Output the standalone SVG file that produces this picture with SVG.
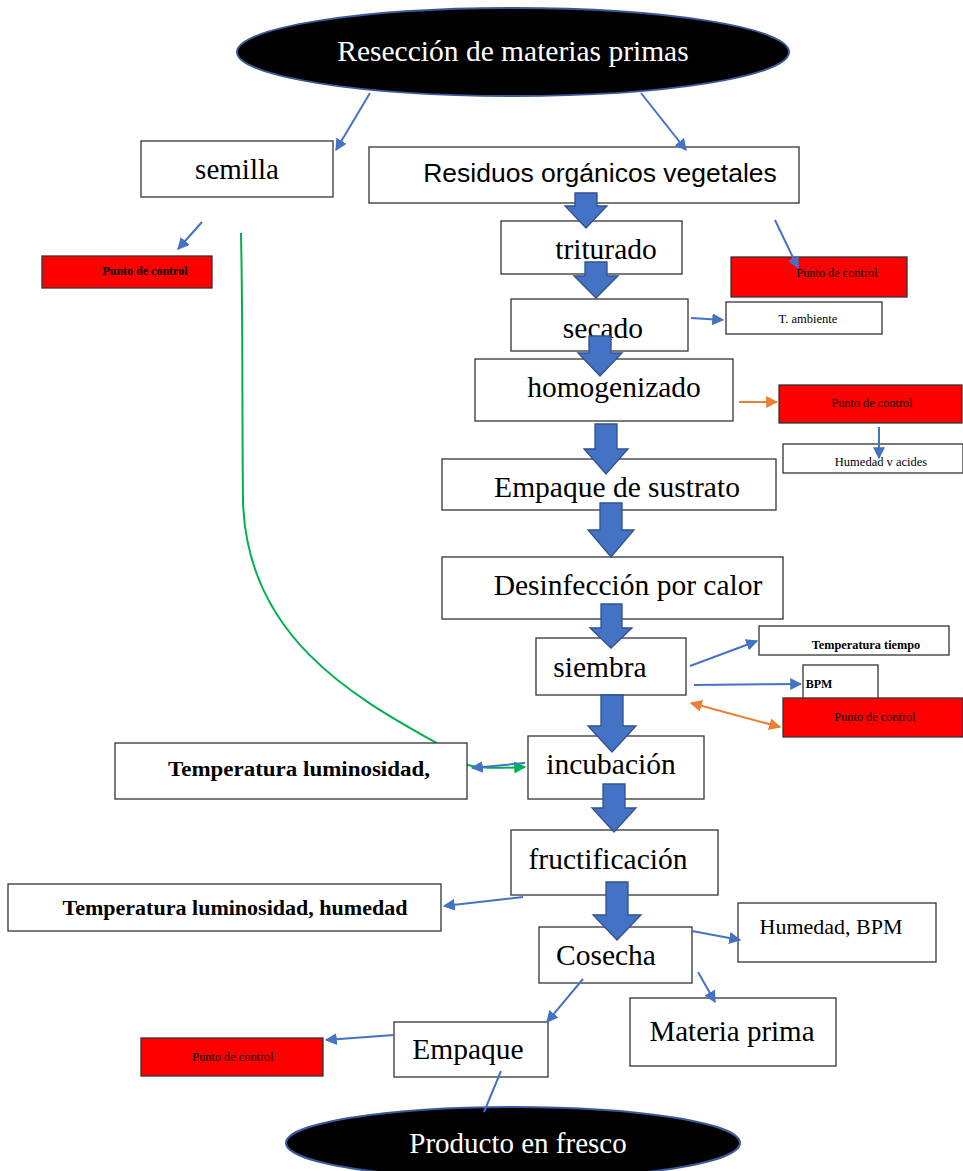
<svg xmlns="http://www.w3.org/2000/svg" width="963" height="1171" viewBox="0 0 963 1171">
<defs>
<style>
.box{fill:#fff;stroke:#333;stroke-width:1.3}
.red{fill:#ff0000;stroke:#333;stroke-width:1.3}
.ell{fill:#000;stroke:#3a5a9a;stroke-width:2}
.t{font-family:"Liberation Serif",serif;fill:#000;text-anchor:middle}
.ta{font-family:"Liberation Sans",sans-serif;fill:#000;text-anchor:middle}
.w{fill:#fff}
.b{font-weight:bold}
.blk{fill:#4472c4;stroke:#2f528f;stroke-width:1.3}
.ln{stroke:#4472c4;stroke-width:2;fill:none}
.or{stroke:#ed7d31;stroke-width:2;fill:none}
.gr{stroke:#00b050;stroke-width:2;fill:none}
</style>
<marker id="ab" viewBox="0 0 10 10" refX="9" refY="5" markerWidth="6" markerHeight="6" orient="auto-start-reverse"><path d="M0,0 L10,5 L0,10 z" fill="#4472c4"/></marker>
<marker id="ao" viewBox="0 0 10 10" refX="9" refY="5" markerWidth="6" markerHeight="6" orient="auto-start-reverse"><path d="M0,0 L10,5 L0,10 z" fill="#ed7d31"/></marker>
<marker id="ag" viewBox="0 0 10 10" refX="9" refY="5" markerWidth="6" markerHeight="6" orient="auto"><path d="M0,0 L10,5 L0,10 z" fill="#00b050"/></marker>
</defs>

<g id="connector-green">
<path class="gr" d="M241,233 C243,330 242,420 243,500 C246,640 360,700 440,745 C455,755 462,762 468,765 C480,769 505,768 525,767" marker-end="url(#ag)"/>
</g>

<g id="n-reseccion">
<ellipse class="ell" cx="513" cy="52" rx="276" ry="44"/>
<text class="t w" x="513" y="61" font-size="29.5">Resección de materias primas</text>
</g>
<g id="n-semilla">
<rect class="box" x="141" y="141" width="192" height="56"/>
<text class="t" x="237" y="179" font-size="29">semilla</text>
</g>
<g id="n-residuos">
<rect class="box" x="369" y="147" width="430" height="56"/>
<text class="ta" x="600" y="182" font-size="26.5">Residuos orgánicos vegetales</text>
</g>
<g id="n-pc1">
<rect class="red" x="42" y="256" width="170" height="32"/>
<text class="t b" x="145" y="275" font-size="12">Punto de control</text>
</g>
<g id="n-triturado">
<rect class="box" x="501" y="221" width="181" height="53"/>
<text class="t" x="606" y="259" font-size="29.5">triturado</text>
</g>
<g id="n-pc2">
<rect class="red" x="731" y="257" width="176" height="40"/>
<text class="t" x="837" y="277" font-size="12.3">Punto de control</text>
</g>
<g id="n-secado">
<rect class="box" x="511" y="299" width="177" height="52"/>
<text class="t" x="603" y="338" font-size="29.5">secado</text>
</g>
<g id="n-tamb">
<rect class="box" x="726" y="302" width="156" height="32"/>
<text class="t" x="808" y="323" font-size="12.5">T. ambiente</text>
</g>
<g id="n-homog">
<rect class="box" x="475" y="359" width="258" height="62"/>
<text class="t" x="614" y="397" font-size="29.5">homogenizado</text>
</g>
<g id="n-pc3">
<rect class="red" x="779" y="385" width="183" height="38"/>
<text class="t" x="872" y="407" font-size="12.3">Punto de control</text>
</g>
<g id="n-humacid">
<rect class="box" x="783" y="444" width="180" height="29"/>
<text class="t" x="881" y="466" font-size="12.5">Humedad v acides</text>
</g>
<g id="n-empsust">
<rect class="box" x="442" y="459" width="334" height="51"/>
<text class="t" x="617" y="497" font-size="29.5">Empaque de sustrato</text>
</g>
<g id="n-desinf">
<rect class="box" x="442" y="557" width="341" height="62"/>
<text class="t" x="628" y="595" font-size="29.5">Desinfección por calor</text>
</g>
<g id="n-siembra">
<rect class="box" x="536" y="638" width="150" height="57"/>
<text class="t" x="600" y="677" font-size="29.5">siembra</text>
</g>
<g id="n-temptiempo">
<rect class="box" x="759" y="626" width="190" height="29"/>
<text class="t b" x="866" y="649" font-size="12.3">Temperatura tiempo</text>
</g>
<g id="n-bpm">
<rect class="box" x="803" y="665" width="75" height="38"/>
<text class="t b" x="819" y="688" font-size="12" text-anchor="start">BPM</text>
</g>
<g id="n-pc4">
<rect class="red" x="783" y="698" width="180" height="39"/>
<text class="t" x="875" y="721" font-size="12.3">Punto de control</text>
</g>
<g id="n-templum">
<rect class="box" x="115" y="743" width="352" height="56"/>
<text class="t b" x="299" y="776" font-size="20" textLength="262" lengthAdjust="spacingAndGlyphs">Temperatura luminosidad,</text>
</g>
<g id="n-incub">
<rect class="box" x="528" y="736" width="176" height="63"/>
<text class="t" x="611" y="774" font-size="29.5">incubación</text>
</g>
<g id="n-fruct">
<rect class="box" x="511" y="830" width="207" height="65"/>
<text class="t" x="608" y="869" font-size="29.5">fructificación</text>
</g>
<g id="n-templumhum">
<rect class="box" x="8" y="884" width="433" height="47"/>
<text class="t b" x="235" y="915" font-size="20" textLength="345" lengthAdjust="spacingAndGlyphs">Temperatura luminosidad, humedad</text>
</g>
<g id="n-cosecha">
<rect class="box" x="539" y="927" width="153" height="56"/>
<text class="t" x="606" y="965" font-size="29.5">Cosecha</text>
</g>
<g id="n-humbpm">
<rect class="box" x="738" y="903" width="198" height="59"/>
<text class="t" x="831" y="934" font-size="22">Humedad, BPM</text>
</g>
<g id="n-materia">
<rect class="box" x="630" y="998" width="206" height="68"/>
<text class="t" x="732" y="1041" font-size="29">Materia prima</text>
</g>
<g id="n-empaque">
<rect class="box" x="394" y="1022" width="154" height="55"/>
<text class="t" x="468" y="1059" font-size="29.5">Empaque</text>
</g>
<g id="n-pc5">
<rect class="red" x="141" y="1038" width="182" height="38"/>
<text class="t" x="233" y="1061" font-size="12.3">Punto de control</text>
</g>
<g id="n-producto">
<ellipse class="ell" cx="513" cy="1143" rx="227" ry="36"/>
<text class="t w" x="518" y="1153" font-size="29">Producto en fresco</text>
</g>

<g id="connectors">
<line class="ln" x1="370" y1="93" x2="336" y2="150" marker-end="url(#ab)"/>
<line class="ln" x1="641" y1="93" x2="686" y2="150" marker-end="url(#ab)"/>
<line class="ln" x1="202" y1="222" x2="178" y2="249" marker-end="url(#ab)"/>
<line class="ln" x1="775" y1="220" x2="798" y2="268" marker-end="url(#ab)"/>
<line class="ln" x1="691" y1="318" x2="723" y2="320" marker-end="url(#ab)"/>
<line class="or" x1="739" y1="402" x2="777" y2="402" marker-end="url(#ao)"/>
<line class="ln" x1="879" y1="427" x2="879" y2="458" marker-end="url(#ab)"/>
<line class="ln" x1="690" y1="666" x2="757" y2="641" marker-end="url(#ab)"/>
<line class="ln" x1="694" y1="685" x2="801" y2="684" marker-end="url(#ab)"/>
<line class="or" x1="691" y1="703" x2="780" y2="727" marker-start="url(#ao)" marker-end="url(#ao)"/>
<line class="ln" x1="525" y1="763" x2="472" y2="768" marker-end="url(#ab)"/>
<line class="ln" x1="523" y1="897" x2="444" y2="906" marker-end="url(#ab)"/>
<line class="ln" x1="692" y1="931" x2="740" y2="940" marker-end="url(#ab)"/>
<line class="ln" x1="698" y1="972" x2="715" y2="1002" marker-end="url(#ab)"/>
<line class="ln" x1="583" y1="979" x2="547" y2="1022" marker-end="url(#ab)"/>
<line class="ln" x1="394" y1="1035" x2="326" y2="1040" marker-end="url(#ab)"/>
<line class="ln" x1="501" y1="1071" x2="484" y2="1112"/>
</g>

<g id="block-arrows">
<path class="blk" d="M575,193 H597 V206 H607 L586,228 L565,206 H575 Z"/>
<path class="blk" d="M585,262 H607 V276 H618 L596,298 L574,276 H585 Z"/>
<path class="blk" d="M589,336 H611 V353 H622 L600,376 L578,353 H589 Z"/>
<path class="blk" d="M595,424 H617 V449 H628 L606,474 L584,449 H595 Z"/>
<path class="blk" d="M600,503 H622 V530 H634 L611,557 L588,530 H600 Z"/>
<path class="blk" d="M601,604 H622 V628 H632 L611,648 L590,628 H601 Z"/>
<path class="blk" d="M601,695 H623 V726 H636 L612,752 L588,726 H601 Z"/>
<path class="blk" d="M603,784 H625 V808 H636 L614,832 L592,808 H603 Z"/>
<path class="blk" d="M606,882 H628 V915 H641 L617,940 L593,915 H606 Z"/>
</g>
</svg>
